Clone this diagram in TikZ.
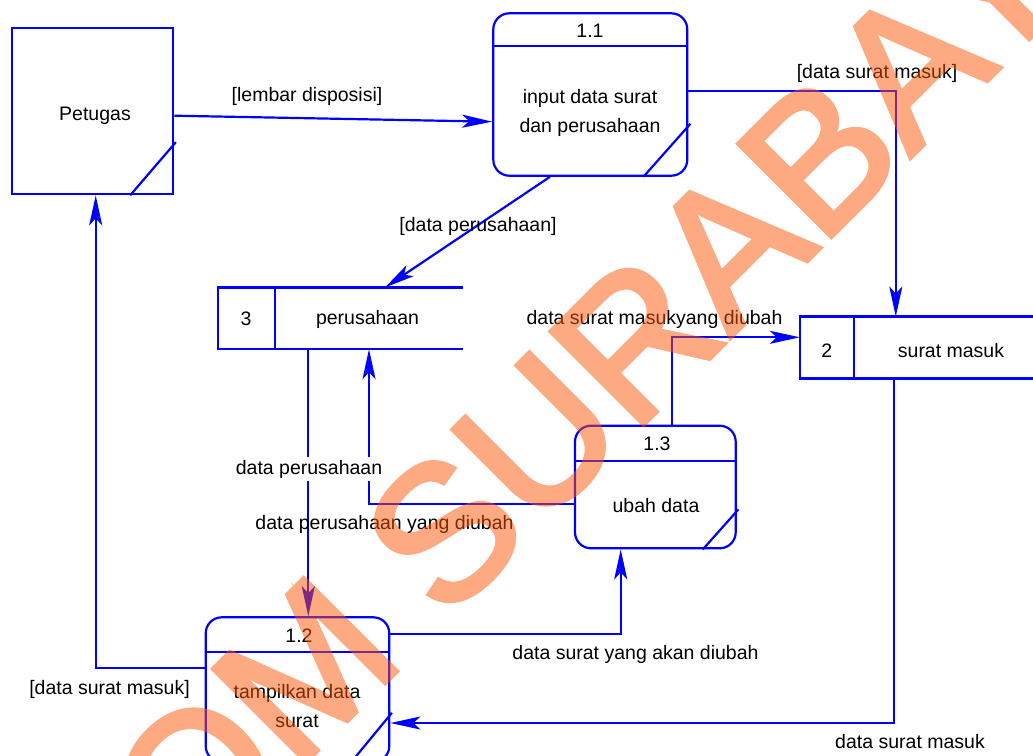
\documentclass[tikz,border=0pt]{standalone}
\usepackage{fontspec}
\setmainfont{Liberation Sans}
\newfontfamily\markfont[FakeBold=2.5]{Liberation Sans}
\usetikzlibrary{arrows.meta}
\definecolor{flowblue}{RGB}{0,0,255}
\definecolor{markorange}{RGB}{251,85,5}

\begin{document}
\begin{tikzpicture}[x=1pt,y=-1pt,
  font=\fontsize{19.5}{29}\selectfont,
  line/.style={draw=flowblue, line width=2.2pt},
  flow/.style={line, -{Stealth[length=30pt,width=13pt,inset=7pt]}},
  entity/.style={draw=flowblue, line width=2.2pt, inner sep=0pt},
  proc/.style={draw=flowblue, line width=2.2pt, rounded corners=16pt, inner sep=0pt},
  storebox/.style={inner sep=0pt},
  lbl/.style={inner sep=2pt, text=black},
  plain/.style={inner sep=0pt, text=black, align=center}
]
\useasboundingbox (0,0) rectangle (1033,755);

% external entity
\node[entity, minimum width=161.6pt, minimum height=166.6pt] (pet) at (92.5,111) {};
\draw[line] ([xshift=-44.3pt]pet.south east) -- ([xshift=1.5pt,yshift=53.3pt]pet.south east);
\node[plain] (petname) at (95,116) {Petugas};

% process 1.1
\node[proc, minimum width=194pt, minimum height=162.4pt] (p11) at (590.3,94.5) {};
\draw[line] ([yshift=-34pt]p11.north west) -- ([yshift=-34pt]p11.north east);
\draw[line] ([xshift=-45pt]p11.south east) -- ([xshift=2pt,yshift=53pt]p11.south east);
\node[plain] (p11id) at (590,31) {1.1};
\node[plain] (p11txt) at (590,113) {input data surat\\dan perusahaan};

% process 1.3
\node[proc, minimum width=160.7pt, minimum height=122.6pt] (p13) at (655.35,487) {};
\draw[line] ([yshift=-36pt]p13.north west) -- ([yshift=-36pt]p13.north east);
\draw[line] ([xshift=-34pt]p13.south east) -- ([xshift=1.6pt,yshift=40pt]p13.south east);
\node[plain] (p13id) at (657,444) {1.3};
\node[plain] (p13txt) at (656,506) {ubah data};

% process 1.2
\node[proc, minimum width=183.6pt, minimum height=144.7pt] (p12) at (297.5,689.65) {};
\draw[line] ([yshift=-35.4pt]p12.north west) -- ([yshift=-35.4pt]p12.north east);
\draw[line] ([xshift=-40pt]p12.south east) -- ([xshift=1.5pt,yshift=50.3pt]p12.south east);
\node[plain] (p12id) at (299,636) {1.2};
\node[plain] (p12txt) at (297,706) {tampilkan data\\surat};

% data store 3
\node[storebox, minimum width=244.7pt, minimum height=61.3pt] (s3) at (340.65,318.35) {};
\draw[line] (s3.north east) -- (s3.north west) -- (s3.south west) -- (s3.south east);
\draw[line] ([xshift=56.7pt]s3.north west) -- ([xshift=56.7pt]s3.south west);
\node[plain] (s3id) at (246,319) {3};
\node[plain] (s3name) at (367.5,319) {perusahaan};

% data store 2
\node[storebox, minimum width=245pt, minimum height=61.6pt] (s2) at (922.5,347.5) {};
\draw[line] (s2.north east) -- (s2.north west) -- (s2.south west) -- (s2.south east);
\draw[line] ([xshift=54.3pt]s2.north west) -- ([xshift=54.3pt]s2.south west);
\node[plain] (s2id) at (826.7,351) {2};
\node[plain] (s2name) at (951,351) {surat masuk};

% data flows
\draw[flow] ([yshift=-4.7pt]pet.east) -- ([yshift=-27.2pt]p11.west);
\draw[flow] ([yshift=3.8pt]p11.east) -| ([xshift=96pt]s2.north west);
\draw[flow] ([xshift=-40.3pt]p11.south) -- ([xshift=44.35pt]s3.north);
\coordinate (s3out) at ([xshift=-32.35pt]s3.south);
\draw[flow] (s3out) -- (s3out |- p12.north);
\draw[flow] ([yshift=-17.3pt]p13.west) -| ([xshift=28.35pt]s3.south);
\draw[flow] ([xshift=16.95pt]p13.north) |- ([yshift=10.2pt]s2.west);
\draw[flow] ([yshift=21.35pt]p12.west) -| ([xshift=3.2pt]pet.south);
\draw[flow] ([yshift=55.35pt]p12.east) -| ([xshift=-34.65pt]p13.south);
\draw[flow] ([xshift=-28.2pt]s2.south) |- ([yshift=-33.35pt]p12.east);

% flow labels
\node[lbl] (l1) at (307,96) {[lembar disposisi]};
\node[lbl] (l2) at (877,73) {[data surat masuk]};
\node[lbl] (l3) at (478,226) {[data perusahaan]};
\node[lbl, fill=white, inner sep=3pt] (l4) at (309,469) {data perusahaan};
\node[lbl] (l5) at (384.5,524) {data perusahaan yang diubah};
\node[lbl] (l6) at (654.5,319) {data surat masukyang diubah};
\node[lbl] (l7) at (635.5,654) {data surat yang akan diubah};
\node[lbl] (l8) at (910,742) {data surat masuk};
\node[lbl] (l9) at (109.5,689) {[data surat masuk]};

% translucent watermark over the diagram
\begin{scope}[transparency group, opacity=0.5]
\node[inner sep=0pt, anchor=base west, rotate=45, text=markorange,
      font=\markfont\fontsize{191}{191}\selectfont] (mark) at (445,623) {\llap{STIKOM }SURABAYA};
\end{scope}
\end{tikzpicture}
\end{document}
